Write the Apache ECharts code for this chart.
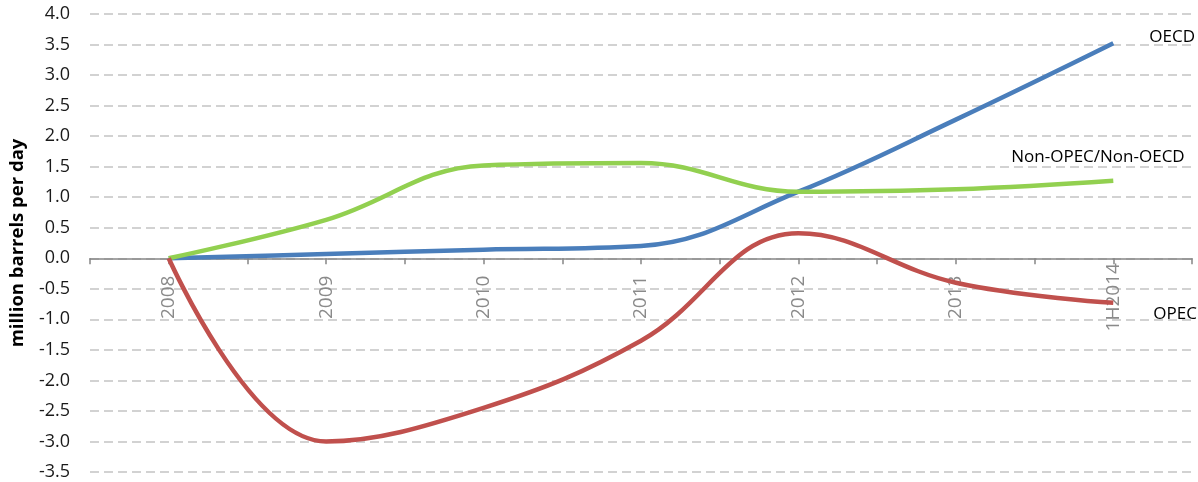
<!DOCTYPE html>
<html>
<head>
<meta charset="utf-8">
<script src="https://cdn.jsdelivr.net/npm/echarts@6/dist/echarts.min.js"></script>
<style>
html,body{margin:0;padding:0;background:#fff;}
#chart{width:1198px;height:482px;}
</style>
</head>
<body>
<div id="chart"></div>
<script>
const categories = ['2008', '2009', '2010', '2011', '2012', '2013', '1H2014'];
const oecd = [0, 0.07, 0.14, 0.2, 1.09, 2.27, 3.52];
const nonOpecNonOecd = [0, 0.63, 1.52, 1.56, 1.09, 1.13, 1.27];
const opec = [0, -3.0, -2.45, -1.35, 0.41, -0.4, -0.73];
const seriesNames = ['OECD', 'Non-OPEC/Non-OECD', 'OPEC'];
const yTicks = { min: -3.5, max: 4.0, step: 0.5 };

const FONT = 'Open Sans';
const toPairs = arr => arr.map((v, i) => [i, v]);
const GRID = { left: 90, right: 6, top: 14, bottom: 10 };

const chart = echarts.init(document.getElementById('chart'), null, { renderer: 'canvas' });

function lineSeries(name, data, color, labelOffset) {
  return {
    name: name,
    type: 'line',
    data: toPairs(data),
    smooth: 0.4,
    symbol: 'none',
    lineStyle: { color: color, width: 4.5 },
    itemStyle: { color: color },
    z: 5,
    endLabel: {
      show: true,
      formatter: name,
      color: '#000',
      fontFamily: FONT,
      fontSize: 17,
      align: 'left',
      verticalAlign: 'middle',
      distance: 0,
      offset: labelOffset
    }
  };
}

chart.setOption({
  animation: false,
  backgroundColor: '#fff',
  grid: Object.assign({ containLabel: false, outerBoundsMode: 'none' }, GRID),
  xAxis: {
    type: 'value',
    position: 'bottom',
    min: -0.5,
    max: 6.5,
    interval: 0.5,
    splitLine: { show: false },
    axisLine: { show: true, onZero: false, lineStyle: { color: '#868686', width: 1.5 } },
    axisTick: { show: true, length: 6, lineStyle: { color: '#868686', width: 1.5 } },
    axisLabel: {
      show: true,
      rotate: 90,
      align: 'center',
      verticalAlign: 'middle',
      margin: 39,
      color: '#8a8a8a',
      fontFamily: FONT,
      fontSize: 19,
      showMinLabel: true,
      showMaxLabel: true,
      formatter: function (v) {
        const i = Math.round(v);
        return (Math.abs(v - i) < 1e-6 && i >= 0 && i < categories.length) ? categories[i] : '';
      }
    }
  },
  yAxis: {
    type: 'value',
    min: yTicks.min,
    max: yTicks.max,
    interval: yTicks.step,
    name: 'million barrels per day',
    nameLocation: 'middle',
    nameGap: 63,
    nameRotate: 90,
    nameTextStyle: { color: '#000', fontFamily: FONT, fontSize: 18.5, fontWeight: 'bold' },
    axisLine: { show: false, onZero: false },
    axisTick: { show: false },
    axisLabel: {
      color: '#1a1a1a',
      fontFamily: FONT,
      fontSize: 18,
      margin: 20,
      formatter: v => v.toFixed(1)
    },
    splitLine: {
      show: true,
      lineStyle: { color: '#c4c4c4', width: 1.5, type: [9, 5] }
    }
  },
  series: [
    lineSeries(seriesNames[0], oecd, '#4a7ebb', [36, -6]),
    lineSeries(seriesNames[1], nonOpecNonOecd, '#92d050', [-102, -24]),
    lineSeries(seriesNames[2], opec, '#c0504d', [40, 11])
  ]
});

// move the category axis up to the zero line of the value axis
const zeroY = chart.convertToPixel({ yAxisIndex: 0 }, 0);
const bottomY = chart.getHeight() - GRID.bottom;
chart.setOption({ xAxis: { offset: -(bottomY - zeroY) } });
</script>
</body>
</html>
